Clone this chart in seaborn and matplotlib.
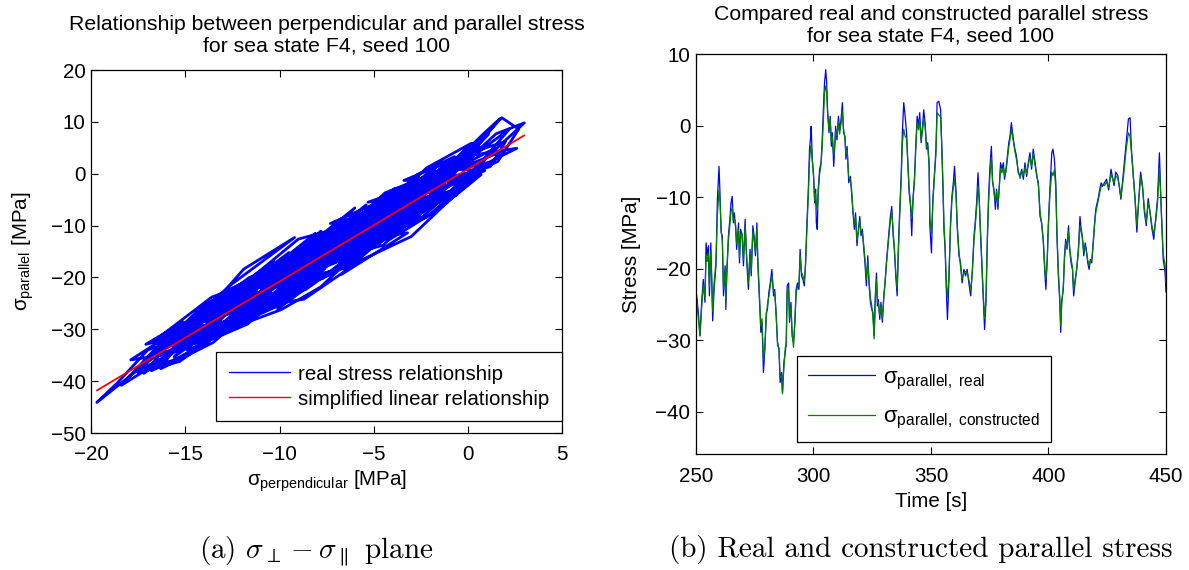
import matplotlib
matplotlib.use("Agg")
import matplotlib.pyplot as plt
import seaborn as sns

# ---------------------------------------------------------------------------
# Perpendicular / parallel stress trajectory (sea state F4, seed 100) [MPa]
# ---------------------------------------------------------------------------
perp_stress = [
    -8.2, -11.5, -9.1, -12.8, -10.3, -13.9, -11.0, -14.6, -12.2, -9.8,
    -7.1, -10.5, -8.4, -5.9, -9.6, -6.8, -10.9, -7.7, -4.8, -7.9,
    -5.2, -8.9, -6.1, -3.4, -6.6, -3.9, -7.3, -4.5, -2.1, -5.5,
    -2.8, -6.3, -3.6, -0.9, -4.2, -1.4, -4.9, -2.4, 0.3, -2.6,
    0.6, -3.1, -0.4, 1.4, -1.8, 1.1, -2.0, 0.9, -1.2, -4.4,
    -7.5, -4.7, -8.6, -11.8, -9.3, -12.6, -15.2, -12.9, -16.1, -13.6,
    -16.7, -14.3, -17.2, -15.4, -12.4, -14.9, -11.7, -9.0, -11.3, -8.1,
    -10.7, -7.6, -10.1, -6.9, -9.4, -6.4, -9.9, -13.1, -10.4, -13.8,
    -11.1, -14.0, -16.4, -13.3, -17.6, -15.0, -17.9, -15.7, -18.4, -16.9,
    -14.2, -16.3, -13.5, -10.6, -12.3, -9.5, -11.9, -8.8, -5.8, -8.3,
    -5.4, -8.0, -5.0, -2.3, -5.6, -3.0, -6.0, -3.3, -0.6, -3.7,
    -1.0, -4.0, -1.6, 1.3, -0.2, 2.2, 0.4, 2.6, 0.1, 1.7,
    0.8, -1.5, -4.1, -7.0, -9.7, -12.0, -14.8, -12.5, -9.2, -11.9,
    -14.5, -11.6, -8.7, -6.2, -8.5, -5.7, -2.9, -5.3, -2.5, -5.1,
    -2.2, 0.5, -1.9, -4.6, -7.2, -4.3, -6.7, -3.2, -5.9, -8.3,
    -11.2, -8.6, -11.4, -13.7, -10.8, -13.2, -15.8, -13.0, -15.5, -17.4,
    -15.1, -17.1, -14.7, -12.1, -9.6, -7.4, -10.0, -7.8, -10.2, -7.5,
    -4.9, -7.0, -4.4, -6.5, -3.8, -1.3, -3.5, -0.7, -2.7, -5.0,
    -2.5, -0.3, 1.9, -0.5, 1.5, 3.0, 1.0, -1.1, -3.6, -6.3,
    -8.9, -11.5, -9.0, -6.6, -9.3, -12.0, -14.4, -12.7, -10.3, -13.4,
    -16.0, -18.0, -19.7, -18.6, -17.0, -14.6, -12.2, -9.9, -7.8, -5.4,
    -7.7, -5.0, -7.3, -4.6, -1.9, -4.3, -1.6, 0.7, -1.7, 0.2,
    -2.2, -4.7, -7.1, -9.8, -12.6, -10.9, -13.6, -16.6, -14.1, -16.8,
    -13.9, -11.3, -8.4, -6.0, -8.8, -6.2, -3.9, -6.5, -3.0, -0.6,
    -3.2, -0.8, -3.4, -1.2, 1.2, 2.0, 0.0, 1.8, 2.7, 1.6,
    -0.9, -3.8, -6.8, -9.4, -12.3, -15.3, -17.5, -15.9, -13.4, -10.6,
    -7.9, -10.9, -13.1, -10.2, -12.8, -9.6, -7.0, -9.9, -7.3, -4.6,
    -7.5, -4.9, -8.2, -11.0, -8.1, -11.2, -14.0, -11.5, -14.3, -11.6,
    -9.2, -12.0, -9.5, -6.6, -9.1, -6.2, -3.7, -6.1, -3.5, -1.0,
    -3.3, -0.5, -2.9, -5.6, -2.8, -5.3, -8.0, -5.8, -8.7, -11.4,
    -8.9, -12.1, -14.9, -12.4, -15.1, -12.9, -15.6, -13.4, -10.5, -13.0,
    -10.1, -7.6, -10.3, -7.2, -4.1, -6.4, -3.6, -6.0, -3.1, -0.4,
    -2.4, 0.5, -1.9, -4.5, -7.1, -10.0, -12.7, -10.8, -8.3, -10.6,
    -7.7, -10.4, -13.5, -16.2, -13.8, -16.5, -14.1, -11.4, -8.5, -11.1,
    -8.0, -5.4, -8.6, -5.9, -3.2, -5.7, -2.6, -5.1, -2.3, -4.8,
    -7.4, -4.2, -6.9, -9.7, -12.5, -9.4, -12.2, -14.7, -12.0, -9.0,
    -6.3, -3.9, -6.5, -3.4, -1.1, -3.9, -1.4, 1.0, -1.5, -4.1,
    -7.0, -9.8, -12.6, -15.0, -12.3, -15.3, -17.0, -14.4, -11.7, -9.0,
    -6.5, -9.3, -6.8, -4.3, -7.0, -4.4, -1.8, -4.0, -1.3, -3.8,
    -6.9, -9.6, -12.9, -10.2, -12.8, -15.5, -13.2, -10.7, -8.2, -5.5,
]
par_stress = [
    -15.9, -24.5, -15.6, -24.8, -23.9, -28.4, -18.8, -32.6, -29.7, -21.3,
    -11.9, -18.0, -20.4, -12.1, -18.1, -9.2, -22.3, -20.2, -11.5, -15.0,
    -7.0, -19.3, -15.9, -5.9, -10.5, -2.9, -16.6, -13.8, -5.0, -9.5,
    -1.4, -12.7, -10.2, -1.9, -6.0, 2.3, -11.1, -8.3, 0.5, -2.3,
    5.3, -5.6, -2.8, 4.8, -1.1, 7.6, -4.0, 0.6, 1.0, -3.7,
    -14.1, -12.2, -22.3, -26.9, -17.7, -22.9, -31.1, -30.1, -35.2, -26.3,
    -32.2, -30.5, -38.5, -30.8, -22.0, -34.0, -29.0, -20.1, -20.8, -11.5,
    -22.0, -19.4, -26.1, -16.0, -17.4, -8.8, -19.9, -29.9, -25.9, -30.0,
    -19.9, -25.3, -33.5, -29.9, -38.2, -29.1, -35.9, -34.7, -40.8, -34.9,
    -26.3, -37.6, -32.5, -23.0, -22.9, -15.2, -25.2, -21.6, -12.9, -14.6,
    -6.0, -15.4, -13.8, -6.3, -10.4, -2.0, -10.1, -8.1, -4.1, -7.6,
    1.6, -3.7, -2.2, 1.9, 2.1, 8.6, 0.9, 4.9, 3.5, 10.6,
    7.6, -0.6, -9.9, -19.0, -23.1, -24.6, -28.5, -21.2, -12.3, -18.4,
    -29.1, -25.8, -24.2, -18.0, -19.8, -10.1, -2.4, -5.5, -3.4, -12.8,
    -8.4, 0.1, -2.3, -5.9, -14.7, -11.8, -19.4, -11.4, -12.9, -14.1,
    -21.5, -18.8, -27.4, -29.5, -19.1, -23.3, -32.0, -30.0, -36.0, -37.4,
    -28.6, -32.9, -30.7, -28.8, -24.7, -16.5, -18.4, -11.1, -19.7, -17.4,
    -10.1, -10.6, -6.3, -15.6, -11.5, -3.9, -5.2, 3.3, -0.2, -8.2,
    -5.7, -2.8, 4.4, 1.0, 7.7, 9.8, 3.1, -3.9, -10.8, -14.3,
    -16.7, -20.1, -12.6, -10.3, -20.1, -29.1, -31.6, -24.5, -16.8, -25.1,
    -33.5, -39.2, -44.1, -40.3, -34.0, -30.9, -29.3, -26.2, -21.8, -13.6,
    -14.9, -5.9, -9.6, -8.1, -4.8, -13.0, -7.0, -0.2, -0.8, 5.9,
    1.1, -7.7, -15.7, -23.6, -28.2, -20.1, -23.8, -32.1, -29.1, -38.0,
    -32.8, -24.3, -15.1, -6.6, -14.8, -13.2, -10.3, -18.1, -12.1, -3.8,
    -5.4, 2.6, -1.3, -1.2, 1.4, 6.2, 3.9, 10.8, 8.6, 2.4,
    -2.1, -5.9, -10.0, -18.5, -28.4, -36.2, -38.4, -30.7, -27.0, -24.2,
    -19.6, -26.7, -29.0, -20.2, -23.8, -16.1, -13.1, -22.4, -18.8, -11.2,
    -14.9, -7.0, -13.3, -22.0, -19.0, -26.5, -31.1, -22.6, -27.3, -20.0,
    -17.0, -25.9, -23.2, -15.0, -17.7, -9.2, -5.2, -13.3, -9.9, -2.4,
    -4.2, 3.2, -3.9, -13.1, -8.5, -11.0, -14.0, -7.4, -15.2, -24.4,
    -22.5, -28.2, -31.0, -22.7, -30.0, -28.5, -35.3, -27.5, -19.4, -23.4,
    -20.8, -18.3, -25.8, -16.0, -7.0, -9.1, -3.9, -12.4, -8.3, -0.2,
    -1.5, 4.2, -3.9, -12.5, -19.1, -23.0, -25.8, -19.3, -12.5, -20.5,
    -17.3, -24.6, -30.4, -33.7, -26.4, -32.7, -30.6, -27.2, -18.0, -20.9,
    -12.4, -8.8, -18.8, -15.3, -6.9, -8.9, -0.7, -9.5, -6.1, -13.8,
    -17.7, -7.9, -11.0, -18.6, -27.3, -22.3, -24.6, -27.9, -23.1, -19.1,
    -15.8, -9.0, -11.4, -3.0, -0.1, -9.2, -5.1, 2.1, -0.1, -4.2,
    -12.1, -20.6, -29.1, -33.1, -24.1, -29.7, -35.3, -32.6, -28.4, -20.6,
    -12.3, -16.3, -9.7, -6.7, -16.2, -12.5, -4.7, -6.0, 1.3, -7.1,
    -16.6, -20.9, -25.9, -17.6, -22.7, -31.8, -29.9, -26.0, -17.7, -9.7,
]

# Simplified linear relationship, end points over the perpendicular range
linear_perp = [-19.7, 3.0]
linear_par = [-41.8, 7.4]

# ---------------------------------------------------------------------------
# Parallel stress time history, 250-450 s [MPa]
# ---------------------------------------------------------------------------
time_s = [
    250.0, 251.0, 251.7, 252.4, 253.1, 253.8, 254.3, 254.8, 255.3, 255.7,
    256.3, 256.7, 257.1, 257.7, 258.5, 259.1, 259.8, 260.2, 260.7, 261.2,
    261.7, 262.4, 262.7, 263.1, 263.8, 264.5, 264.9, 265.4, 265.9, 266.3,
    266.9, 267.3, 268.1, 268.5, 269.0, 269.6, 270.2, 270.9, 271.6, 272.3,
    273.0, 273.5, 274.2, 274.7, 275.3, 275.9, 276.3, 277.0, 277.6, 278.1,
    278.7, 279.3, 279.9, 280.4, 281.0, 281.6, 282.3, 283.0, 283.5, 284.1,
    284.7, 285.3, 285.8, 286.4, 286.8, 287.4, 288.0, 288.4, 288.8, 289.4,
    289.8, 290.4, 290.9, 291.5, 292.1, 292.6, 293.2, 293.8, 294.3, 294.9,
    295.5, 296.1, 296.6, 297.2, 297.8, 298.3, 298.8, 299.0, 299.5, 300.0,
    300.5, 300.9, 301.2, 301.6, 302.0, 302.6, 303.2, 303.7, 304.3, 304.7,
    305.2, 305.6, 306.0, 306.6, 307.1, 307.6, 308.0, 308.6, 309.0, 309.4,
    310.0, 310.6, 311.1, 311.7, 312.3, 312.8, 313.4, 313.8, 314.3, 315.0,
    315.7, 316.2, 316.8, 317.4, 317.9, 318.5, 319.1, 319.7, 320.2, 320.8,
    321.4, 321.9, 322.5, 323.1, 323.6, 324.2, 324.8, 325.3, 325.8, 326.3,
    326.8, 327.2, 327.6, 328.2, 328.7, 329.3, 329.9, 330.5, 331.0, 331.6,
    332.2, 332.7, 333.3, 333.9, 334.4, 335.0, 335.6, 336.1, 336.7, 337.3,
    337.8, 338.4, 339.0, 339.6, 340.1, 340.7, 341.3, 341.8, 342.4, 343.0,
    343.5, 344.1, 344.7, 345.2, 345.8, 346.4, 346.9, 347.5, 348.1, 348.6,
    349.2, 349.5, 350.2, 350.8, 351.5, 352.1, 352.6, 353.3, 354.1, 354.6,
    355.1, 355.5, 356.0, 356.6, 357.0, 357.6, 358.3, 358.9, 359.5, 360.0,
    360.6, 361.2, 361.9, 362.6, 363.2, 364.0, 364.7, 365.4, 366.1, 366.9,
    367.6, 368.3, 368.8, 369.4, 370.0, 370.5, 371.1, 371.7, 372.3, 372.8,
    373.4, 374.0, 374.5, 375.1, 375.7, 376.2, 376.8, 377.4, 377.9, 378.5,
    379.1, 379.6, 380.2, 380.8, 381.3, 381.9, 382.5, 383.1, 383.6, 384.2,
    385.0, 385.7, 386.4, 387.1, 387.9, 388.6, 389.3, 390.0, 390.7, 391.4,
    392.1, 392.8, 393.5, 394.3, 395.0, 395.7, 396.4, 397.1, 397.8, 398.5,
    398.9, 399.5, 399.9, 400.6, 401.4, 401.9, 402.5, 403.1, 403.6, 404.2,
    404.8, 405.2, 405.6, 406.3, 406.8, 407.3, 407.9, 408.5, 409.0, 409.6,
    410.2, 410.7, 411.3, 412.0, 412.7, 413.4, 413.9, 414.4, 415.0, 415.6,
    416.1, 416.7, 417.3, 417.8, 418.4, 419.0, 419.6, 420.1, 420.7, 421.3,
    421.8, 422.4, 423.0, 423.8, 424.7, 425.6, 426.6, 427.9, 428.6, 429.5,
    430.2, 430.8, 431.9, 433.1, 434.0, 434.7, 435.3, 436.0, 436.8, 437.6,
    438.4, 439.2, 440.0, 440.8, 441.6, 442.4, 443.2, 444.0, 444.8, 445.6,
    446.4, 447.2, 448.0, 448.8, 449.6, 450.0,
]
par_real = [
    -22.9, -26.1, -29.4, -24.7, -21.5, -24.7, -16.4, -18.2, -16.8, -23.8,
    -16.4, -22.0, -27.3, -22.9, -19.6, -10.3, -5.7, -9.4, -15.0, -15.4,
    -23.8, -19.6, -25.7, -21.0, -15.4, -12.7, -10.8, -9.9, -13.6, -12.2,
    -14.5, -17.3, -13.6, -19.2, -14.5, -15.4, -19.6, -13.1, -19.2, -22.9,
    -17.3, -21.0, -14.0, -15.4, -18.2, -13.6, -19.2, -24.3, -28.9, -27.5,
    -34.5, -31.3, -26.1, -25.7, -23.3, -22.0, -20.1, -23.8, -22.9, -26.6,
    -30.3, -31.3, -35.9, -34.5, -37.3, -33.1, -31.7, -30.3, -22.4, -22.0,
    -27.5, -24.7, -29.4, -30.3, -27.5, -22.9, -22.0, -22.9, -17.3, -21.0,
    -21.5, -22.4, -19.2, -13.6, -8.9, -3.3, -1.5, -0.1, -4.7, -6.6,
    -10.8, -8.9, -13.6, -14.5, -8.9, -6.1, -5.2, -2.0, 3.2, 6.0,
    7.8, 6.0, 2.2, -1.0, 1.3, -2.9, -1.0, -5.7, -3.3, -0.1,
    -2.0, 1.3, -0.6, 0.8, 3.2, -1.0, -1.5, -4.7, -2.9, -8.0,
    -7.1, -9.4, -12.2, -14.5, -12.2, -16.8, -14.5, -12.7, -15.4, -14.5,
    -17.3, -19.2, -22.4, -18.2, -22.0, -24.7, -25.7, -26.1, -29.4, -23.8,
    -20.6, -25.2, -24.3, -27.1, -24.7, -27.5, -23.8, -22.0, -19.2, -16.8,
    -14.5, -12.7, -11.3, -15.4, -17.3, -21.0, -23.8, -17.3, -11.7, -7.1,
    -1.0, 3.2, 1.3, -1.0, -4.7, -9.4, -11.3, -15.4, -9.9, -7.1,
    -2.9, 1.3, -0.1, 1.8, -2.4, -0.1, 2.2, 0.4, -3.3, -2.4,
    -5.7, -14.0, -17.8, -10.3, -6.6, -3.3, 3.2, 3.4, 2.2, -2.9,
    -8.9, -14.5, -17.3, -23.8, -27.1, -22.0, -13.6, -9.9, -8.0, -5.7,
    -8.9, -14.5, -18.2, -19.2, -22.0, -20.1, -21.0, -20.1, -22.0, -23.8,
    -20.1, -15.4, -13.6, -10.8, -6.6, -9.9, -15.4, -20.1, -24.7, -28.5,
    -24.7, -15.4, -9.9, -5.7, -2.9, -8.0, -8.9, -11.7, -8.9, -11.7,
    -8.0, -5.2, -6.1, -5.2, -7.5, -6.1, -4.3, -2.4, -1.5, 0.4,
    -1.8, -3.3, -4.3, -6.6, -7.1, -6.1, -7.5, -5.2, -7.1, -5.2,
    -3.8, -6.1, -3.3, -5.2, -7.1, -8.0, -12.7, -13.6, -16.4, -21.0,
    -22.9, -18.2, -14.0, -8.9, -3.8, -3.3, -4.7, -8.0, -15.4, -21.0,
    -24.7, -28.9, -24.7, -22.9, -18.2, -15.9, -17.3, -14.0, -17.3, -19.2,
    -20.1, -23.8, -22.0, -20.1, -17.3, -12.7, -14.5, -15.4, -18.2, -16.4,
    -17.3, -19.2, -20.1, -18.7, -19.2, -16.4, -13.6, -11.7, -10.8, -9.9,
    -8.9, -8.0, -8.5, -8.0, -7.5, -9.0, -6.1, -8.4, -6.5, -7.0,
    -8.8, -10.3, -6.5, -2.4, 0.9, 1.1, -3.3, -6.5, -10.2, -14.9,
    -10.2, -6.5, -8.4, -12.1, -14.0, -10.2, -12.1, -14.4, -15.9, -13.1,
    -10.2, -3.8, -12.1, -18.7, -20.5, -23.3,
]
par_constructed = [
    -23.5, -27.0, -29.4, -25.5, -22.3, -24.0, -18.0, -19.0, -17.9, -22.5,
    -17.5, -21.3, -26.0, -22.0, -19.0, -12.5, -9.0, -10.5, -14.6, -16.2,
    -22.8, -20.2, -24.5, -20.1, -16.0, -13.6, -12.0, -11.5, -13.2, -13.0,
    -14.0, -16.5, -14.5, -18.5, -15.2, -15.0, -18.8, -14.0, -18.5, -22.0,
    -17.9, -20.3, -14.8, -15.9, -17.7, -14.4, -18.6, -23.6, -28.0, -27.0,
    -32.8, -31.0, -26.8, -25.0, -23.9, -22.5, -21.0, -23.2, -23.5, -26.0,
    -30.8, -31.0, -35.2, -35.0, -37.5, -33.8, -31.0, -30.8, -23.2, -22.8,
    -27.0, -25.2, -29.0, -31.0, -27.0, -23.5, -22.5, -22.3, -18.2, -20.5,
    -21.0, -21.8, -19.8, -14.5, -9.8, -5.0, -3.0, -2.8, -5.0, -7.2,
    -10.5, -9.5, -11.0, -11.8, -9.5, -6.8, -5.5, -3.0, 1.5, 4.5,
    5.5, 4.8, 1.5, -0.5, 0.8, -2.2, -1.5, -4.2, -2.8, -0.8,
    -1.5, 0.5, -1.2, 0.2, 2.0, -0.5, -2.0, -4.0, -3.4, -7.2,
    -7.6, -8.8, -11.8, -13.8, -12.8, -16.0, -14.8, -13.3, -14.9, -15.0,
    -16.8, -18.6, -21.5, -18.9, -21.4, -24.0, -25.2, -26.8, -29.8, -24.5,
    -21.5, -24.6, -24.8, -26.5, -25.2, -27.0, -24.3, -21.5, -19.6, -17.2,
    -15.0, -13.4, -12.0, -14.8, -17.0, -20.4, -22.8, -17.8, -12.4, -7.8,
    -2.5, -0.5, -1.5, -1.8, -5.0, -8.8, -10.8, -13.0, -10.2, -7.6,
    -3.5, 0.5, -0.6, 0.8, -2.0, -0.8, 1.0, -0.2, -3.0, -2.8,
    -5.2, -12.8, -15.0, -10.8, -7.0, -4.0, 1.8, 1.5, 1.2, -3.2,
    -8.2, -13.5, -16.8, -22.5, -24.0, -21.2, -14.2, -10.5, -8.6, -7.5,
    -9.4, -14.0, -17.6, -19.8, -21.4, -20.6, -20.4, -20.5, -21.5, -23.0,
    -20.6, -16.0, -14.2, -11.6, -8.5, -10.4, -15.0, -19.6, -24.0, -27.0,
    -24.0, -16.0, -10.8, -6.8, -4.5, -7.6, -9.4, -10.5, -9.2, -11.0,
    -8.5, -6.0, -6.6, -5.8, -7.0, -6.5, -4.8, -3.0, -2.0, -0.5,
    -2.2, -3.6, -4.8, -6.2, -7.4, -6.4, -7.0, -5.8, -6.7, -5.5,
    -4.4, -5.7, -3.9, -5.6, -6.8, -8.4, -12.0, -13.8, -16.0, -20.2,
    -21.5, -18.6, -14.6, -9.6, -6.5, -7.0, -6.2, -8.8, -15.0, -20.4,
    -24.0, -28.0, -25.0, -22.4, -18.8, -16.4, -17.0, -14.8, -17.0, -18.6,
    -19.8, -23.0, -21.6, -20.0, -17.8, -14.0, -14.8, -15.8, -17.6, -16.8,
    -17.6, -18.8, -19.6, -18.9, -18.8, -16.8, -14.0, -12.2, -11.2, -10.2,
    -9.4, -8.5, -8.2, -8.4, -7.9, -8.6, -6.8, -8.0, -7.0, -7.4,
    -8.5, -10.0, -7.2, -3.2, -1.0, -1.5, -3.8, -6.8, -10.0, -14.0,
    -10.6, -7.2, -8.6, -11.6, -13.6, -10.8, -12.0, -14.0, -15.2, -13.4,
    -10.8, -6.0, -11.6, -18.0, -19.5, -22.0,
]

# ---------------------------------------------------------------------------
# Style
# ---------------------------------------------------------------------------
sns.set_style("ticks")
FS = 14.8
plt.rcParams.update({
    "font.family": ["Liberation Sans", "DejaVu Sans"],
    "mathtext.fontset": "custom",
    "mathtext.rm": "Liberation Sans",
    "mathtext.it": "Liberation Sans:italic",
    "mathtext.bf": "Liberation Sans:bold",
    "font.size": FS,
    "text.color": "black",
    "axes.labelcolor": "black",
    "axes.edgecolor": "black",
    "axes.linewidth": 0.9,
    "xtick.color": "black",
    "ytick.color": "black",
    "xtick.direction": "in",
    "ytick.direction": "in",
    "xtick.top": True,
    "ytick.right": True,
    "xtick.major.size": 5,
    "ytick.major.size": 5,
    "xtick.major.width": 0.8,
    "ytick.major.width": 0.8,
    "xtick.labelsize": FS,
    "ytick.labelsize": FS,
})

W, H = 1189, 570
fig = plt.figure(figsize=(W / 100, H / 100), dpi=100)


def axes_at(x0, y0, x1, y1):
    """Create axes from pixel box (left, top, right, bottom)."""
    return fig.add_axes([x0 / W, 1 - y1 / H, (x1 - x0) / W, (y1 - y0) / H])


ax1 = axes_at(91.2, 70, 562, 433)
ax2 = axes_at(696, 54, 1166, 454)

# ---- (a) perpendicular vs parallel stress ----
sns.lineplot(x=perp_stress, y=par_stress, sort=False, estimator=None,
             color="#0000ff", lw=2.0, ax=ax1, label="real stress relationship")
sns.lineplot(x=linear_perp, y=linear_par, sort=False, estimator=None,
             color="#ff0000", lw=1.3, ax=ax1, label="simplified linear relationship")
ax1.set_xlim(-20, 5)
ax1.set_ylim(-50, 20)
ax1.set_xticks([-20, -15, -10, -5, 0, 5])
ax1.set_yticks([-50, -40, -30, -20, -10, 0, 10, 20])
ax1.set_title("Relationship between perpendicular and parallel stress\n"
              "for sea state F4, seed 100", fontsize=15.3, pad=13, linespacing=1.2)
ax1.set_xlabel(r"$\mathrm{σ_{perpendicular}}$ [MPa]", fontsize=FS)
ax1.set_ylabel(r"$\mathrm{σ_{parallel}}$ [MPa]", fontsize=FS)
ax1.xaxis.set_label_coords(0.5, -0.097)
ax1.yaxis.set_label_coords(-0.118, 0.5)
leg1 = ax1.legend(loc="lower right", bbox_to_anchor=(1.0, 0.033), borderaxespad=0,
                  fontsize=FS, handlelength=3.0, handletextpad=0.4,
                  labelspacing=0.3, borderpad=0.6, fancybox=False,
                  framealpha=1, edgecolor="black")
leg1.get_frame().set_linewidth(0.9)
for h in leg1.get_lines():
    h.set_linewidth(1.0)

# ---- (b) real vs constructed parallel stress ----
sns.lineplot(x=time_s, y=par_real, sort=False, estimator=None,
             color="#0000ff", lw=0.9, ax=ax2,
             label=r"$\mathrm{σ_{parallel,\ real}}$")
sns.lineplot(x=time_s, y=par_constructed, sort=False, estimator=None,
             color="#008000", lw=0.9, ax=ax2,
             label=r"$\mathrm{σ_{parallel,\ constructed}}$")
ax2.set_xlim(250, 450)
ax2.set_ylim(-45.9, 10)
ax2.set_xticks([250, 300, 350, 400, 450])
ax2.set_yticks([-40, -30, -20, -10, 0, 10])
ax2.set_title("Compared real and constructed parallel stress\n"
              "for sea state F4, seed 100", fontsize=15.3, pad=9, linespacing=1.2)
ax2.set_xlabel("Time [s]", fontsize=FS)
ax2.set_ylabel("Stress [MPa]", fontsize=FS)
ax2.xaxis.set_label_coords(0.5, -0.095)
ax2.yaxis.set_label_coords(-0.118, 0.5)
leg2 = ax2.legend(loc="lower center", bbox_to_anchor=(0.485, 0.03), borderaxespad=0,
                  fontsize=16, handlelength=3.0, handletextpad=0.35,
                  labelspacing=0.65, borderpad=0.5, fancybox=False,
                  framealpha=1, edgecolor="black")
leg2.get_frame().set_linewidth(0.9)

for ax in (ax1, ax2):
    for s in ax.spines.values():
        s.set_visible(True)
        s.set_color("black")
    ax.tick_params(axis="y", pad=4)
ax1.tick_params(axis="x", pad=9)
ax2.tick_params(axis="x", pad=9.5)

# ---- sub-figure captions ----
cap_kw = dict(fontsize=21, fontfamily="cmr10", math_fontfamily="cm",
              ha="center", va="baseline")
fig.text(316 / W, 1 - 557 / H, r"(a) $\sigma_{\perp} - \sigma_{\parallel}$ plane", **cap_kw)
fig.text(921 / W, 1 - 557 / H, "(b) Real and constructed parallel stress", **cap_kw)

fig.savefig("out.png", dpi=100)
